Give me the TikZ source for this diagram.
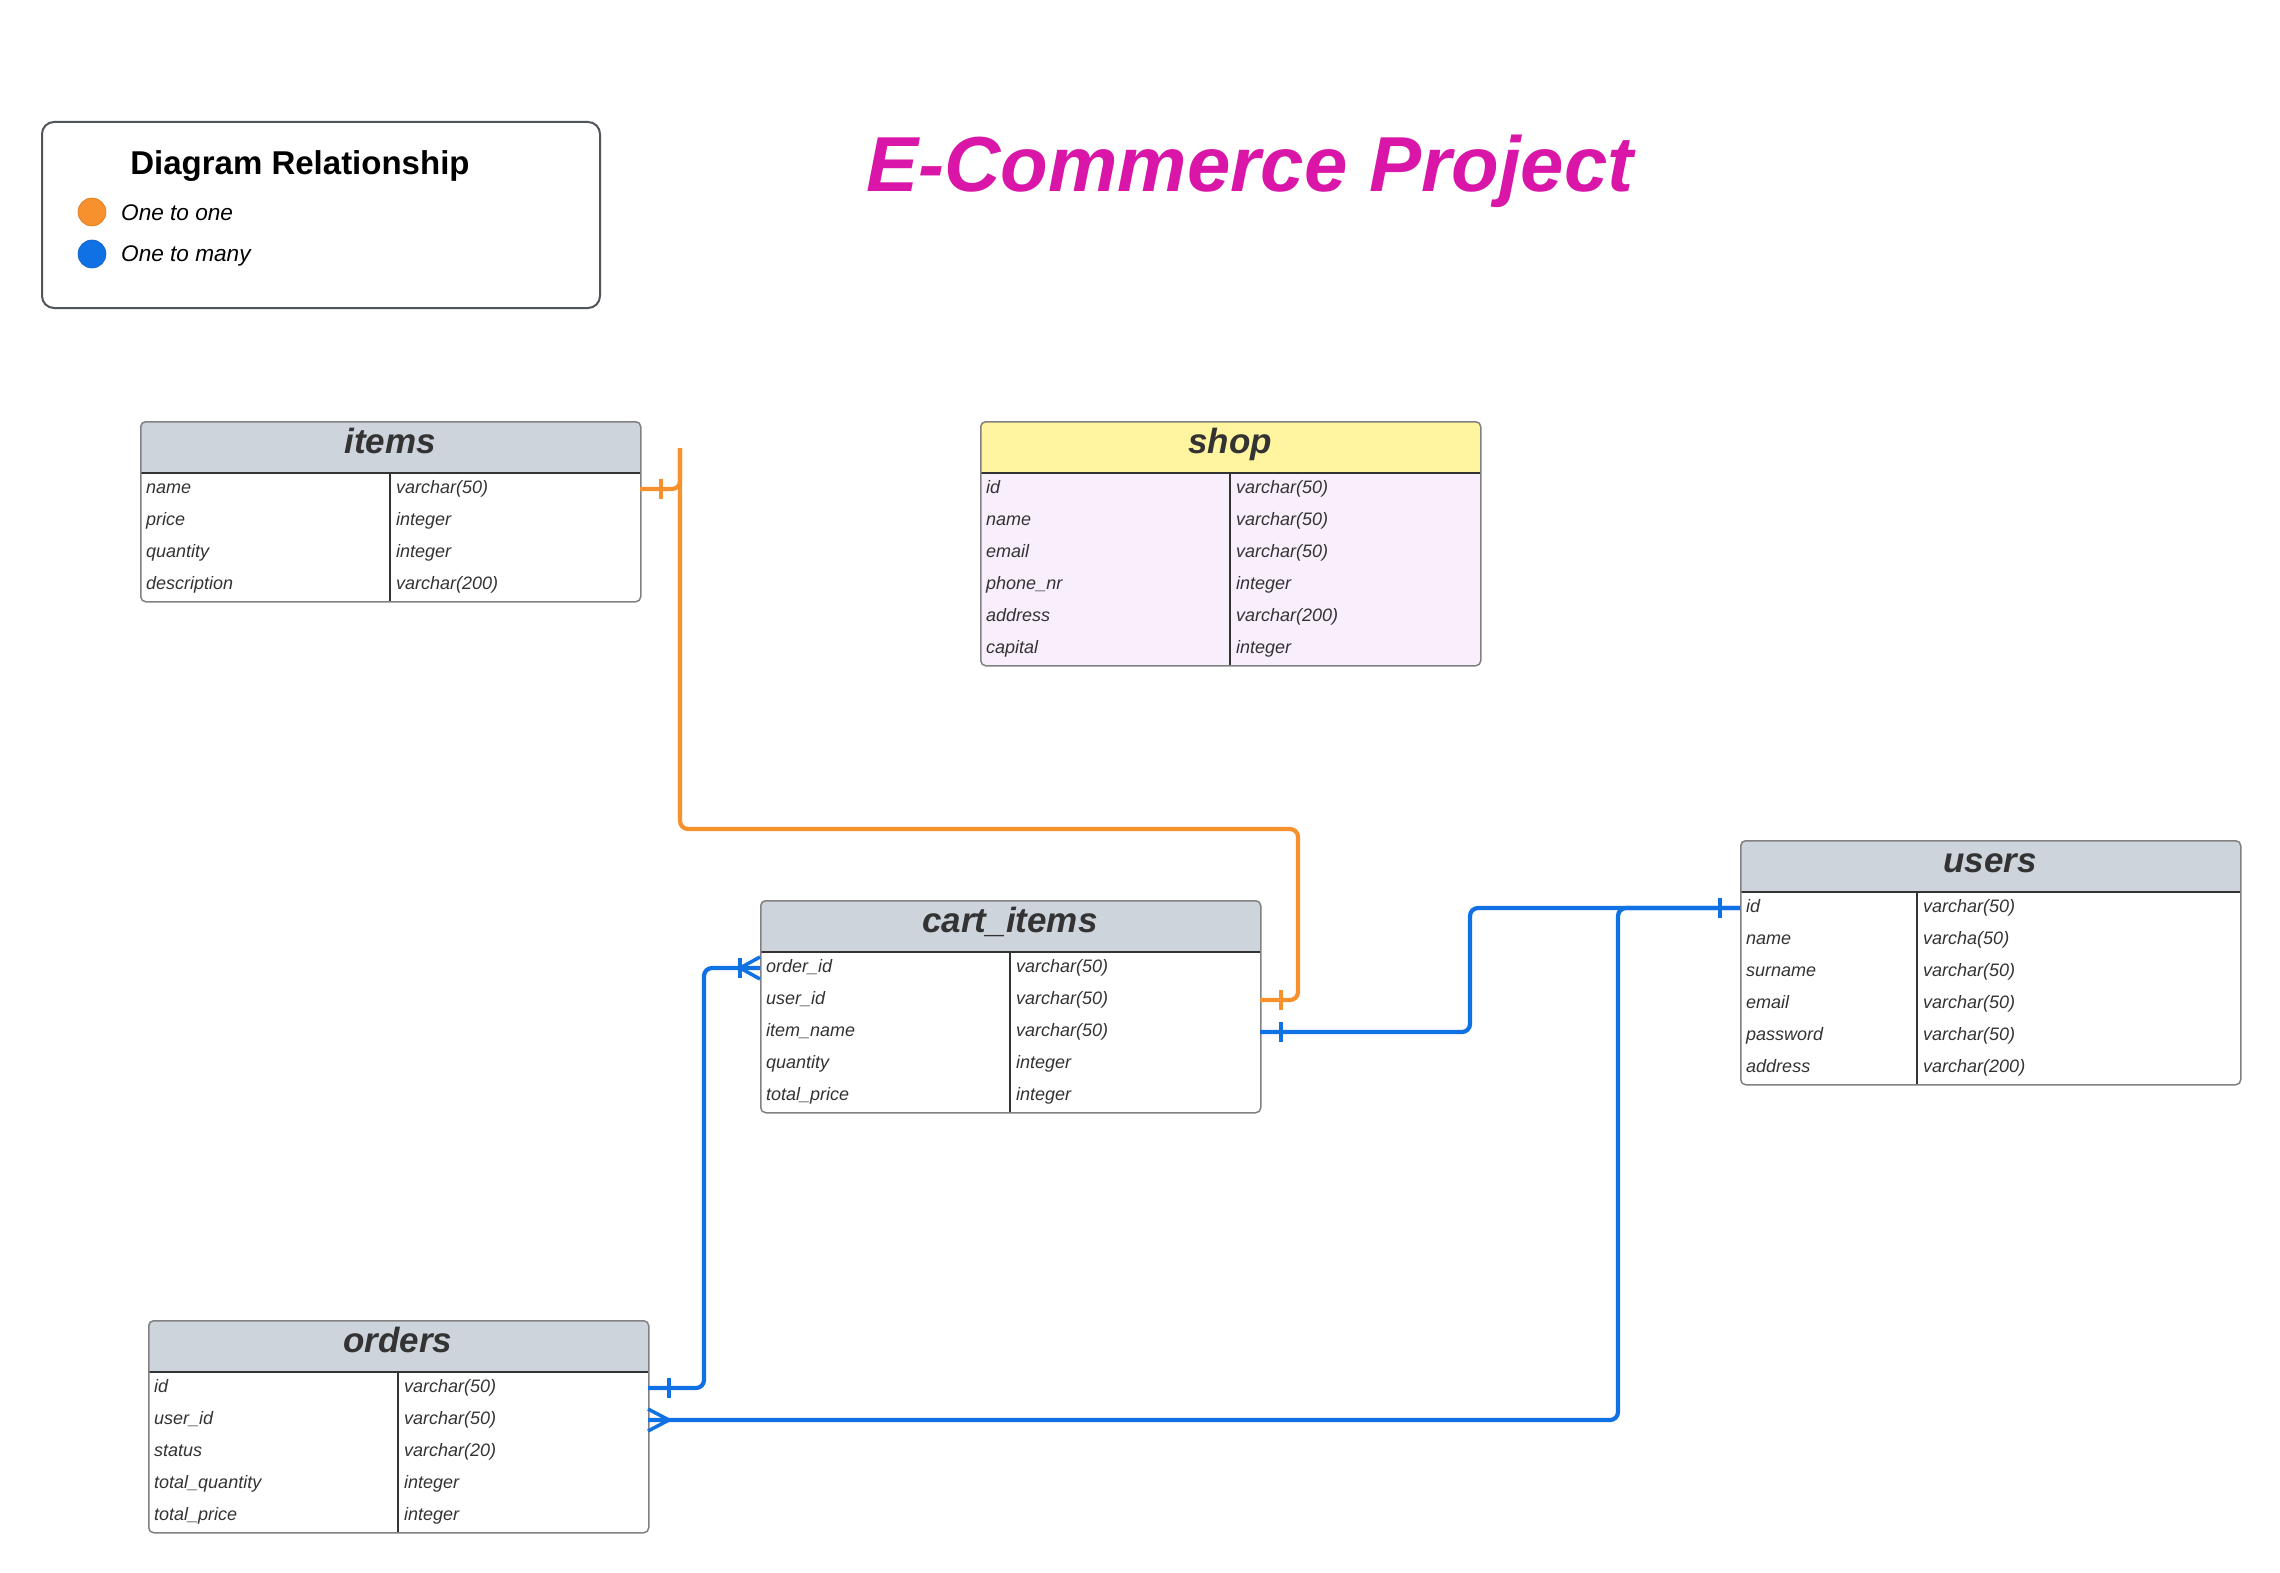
\documentclass[tikz,border=0pt]{standalone}
\usepackage{fontspec}
\setmainfont{Liberation Sans}
\usetikzlibrary{calc}
\definecolor{hdrgray}{RGB}{206,212,220}
\definecolor{shopyel}{RGB}{255,245,160}
\definecolor{shoppink}{RGB}{249,238,252}
\definecolor{oline}{RGB}{247,145,45}
\definecolor{bline}{RGB}{16,113,229}
\definecolor{magentatitle}{RGB}{217,22,168}
\definecolor{txtgray}{RGB}{51,51,51}
\definecolor{framegray}{RGB}{130,130,130}
\definecolor{legframe}{RGB}{80,85,92}

\tikzset{
 tframe/.style={draw=framegray, line width=1.5pt, rounded corners=5pt},
 hdrtext/.style={font=\fontsize{35}{40}\selectfont\bfseries\itshape, text=txtgray, inner sep=0pt, text height=26pt, text depth=7pt},
 celltext/.style={font=\fontsize{18}{21}\selectfont\itshape, text=txtgray, inner sep=0pt, anchor=west, text height=13pt, text depth=4pt},
 rowbox/.style={minimum width=500pt, minimum height=32pt, inner sep=0pt, outer sep=0pt, draw=none},
 connone/.style={draw=oline, line width=4.2pt, rounded corners=8pt},
 connmany/.style={draw=bline, line width=4.2pt, rounded corners=8pt},
 tickone/.style={draw=oline, line width=3.5pt},
 tickmany/.style={draw=bline, line width=3.5pt},
}

\newcommand\ertable[9]{%
 \pgfmathsetmacro\erbot{#3+52+32*#4}%
 \fill[#6, rounded corners=5pt] (#2,#3) rectangle ({#2+500},\erbot);
 \fill[#5, rounded corners=5pt] (#2,#3) rectangle ({#2+500},{#3+52});
 \fill[#5] (#2,{#3+26}) rectangle ({#2+500},{#3+52});
 \draw[txtgray, line width=1.8pt] (#2,{#3+52}) -- ({#2+500},{#3+52});
 \draw[txtgray, line width=1.5pt] ({#2+#8},{#3+52}) -- ({#2+#8},\erbot);
 \node[tframe, anchor=north west, minimum width=500pt, minimum height={52pt+32pt*#4}, inner sep=0pt] (#1) at (#2,#3) {};
 \node[hdrtext] (#1-title) at ({#2+250},{#3+23}) {#7};
 \foreach \ca/\cb [count=\ci] in {#9} {
   \node[rowbox] (#1-\ci) at ({#2+250},{#3+52+32*\ci-16}) {};
   \node[celltext] (#1-\ci-n) at ({#2+6},{#3+52+32*\ci-16}) {\ca};
   \node[celltext] (#1-\ci-t) at ({#2+#8+6},{#3+52+32*\ci-16}) {\cb};
 }
}

\begin{document}
\begin{tikzpicture}[x=1pt,y=-1pt]
\useasboundingbox (0,0) rectangle (2280,1573);
\fill[white] (0,0) rectangle (2280,1573);

% legend
\node[draw=legframe, line width=2pt, rounded corners=12pt, minimum width=558pt, minimum height=186pt, anchor=north west, inner sep=0pt] (legend) at (41,121) {};
\node[font=\fontsize{33}{38}\selectfont\bfseries, inner sep=0pt] (legtitle) at (300,166) {Diagram Relationship};
\node[circle, fill=oline, draw=oline!85!black, line width=0.6pt, minimum size=28pt, inner sep=0pt] (legdotone) at (92,212) {};
\node[anchor=west, font=\fontsize{22.6}{26}\selectfont\itshape, inner sep=0pt] (legone) at (121,213) {One to one};
\node[circle, fill=bline, draw=bline!85!black, line width=0.6pt, minimum size=28pt, inner sep=0pt] (legdotmany) at (92,254) {};
\node[anchor=west, font=\fontsize{22.6}{26}\selectfont\itshape, inner sep=0pt] (legmany) at (121,256) {One to many};

% title
\node[font=\fontsize{78}{90}\selectfont\bfseries\itshape, text=magentatitle, inner sep=0pt] (title) at (1250,171) {E-Commerce Project};

% tables
\ertable{items}{140}{421}{4}{hdrgray}{white}{items}{250}{name/varchar(50), price/integer, quantity/integer, description/varchar(200)}
\ertable{shop}{980}{421}{6}{shopyel}{shoppink}{shop}{250}{id/varchar(50), name/varchar(50), email/varchar(50), phone\_nr/integer, address/varchar(200), capital/integer}
\ertable{cart_items}{760}{900}{5}{hdrgray}{white}{cart\_items}{250}{order\_id/varchar(50), user\_id/varchar(50), item\_name/varchar(50), quantity/integer, total\_price/integer}
\ertable{users}{1740}{840}{6}{hdrgray}{white}{users}{177}{id/varchar(50), name/varcha(50), surname/varchar(50), email/varchar(50), password/varchar(50), address/varchar(200)}
\ertable{orders}{148}{1320}{5}{hdrgray}{white}{orders}{250}{id/varchar(50), user\_id/varchar(50), status/varchar(20), total\_quantity/integer, total\_price/integer}

% one-to-one connector (orange)
\coordinate (ostub) at (680,448);
\coordinate (orx) at (1298,829);
\draw[connone] (items-1.east) -- (ostub |- items-1.east) -- (ostub);
\draw[connone] (ostub) -- (ostub |- orx) -- (orx) -- (orx |- cart_items-2.east) -- (cart_items-2.east);
\draw[tickone] ($(items-1.east)+(21,-10)$) -- ++(0,20);
\draw[tickone] ($(cart_items-2.east)+(21,-10)$) -- ++(0,20);

% one-to-many connectors (blue)
\coordinate (bxa) at (1470,910);
\coordinate (bxb) at (1618,910);
\coordinate (bxc) at (704,968);
\draw[connmany] (cart_items-3.east) -- (bxa |- cart_items-3.east) -- (bxa |- users-1.west) -- (users-1.west);
\draw[connmany] (orders-2.east) -- (bxb |- orders-2.east) -- (bxb |- users-1.west) -- (users-1.west);
\draw[connmany] (orders-1.east) -- (bxc |- orders-1.east) -- (bxc |- cart_items-1.west) -- (cart_items-1.west);
\draw[tickmany] ($(cart_items-3.east)+(21,-10)$) -- ++(0,20);
\draw[tickmany] ($(users-1.west)+(-20,-10)$) -- ++(0,20);
\draw[tickmany] ($(orders-1.east)+(21,-10)$) -- ++(0,20);
\draw[tickmany] ($(orders-2.east)+(0,-11)$) -- ($(orders-2.east)+(21,0)$) -- ($(orders-2.east)+(0,11)$);
\draw[tickmany] ($(cart_items-1.west)+(0,-11)$) -- ($(cart_items-1.west)+(-20,0)$) -- ($(cart_items-1.west)+(0,11)$);
\draw[tickmany] ($(cart_items-1.west)+(-20,-10)$) -- ++(0,20);
\end{tikzpicture}
\end{document}
